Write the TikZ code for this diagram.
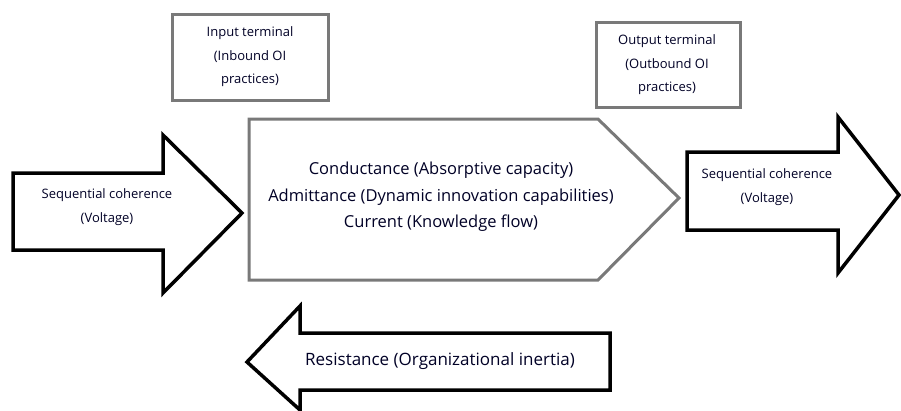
\documentclass[tikz,border=0pt]{standalone}
\usepackage{fontspec}
\setmainfont{Open Sans}
\begin{document}
\begin{tikzpicture}[x=1pt,y=-1pt,
  blk/.style={draw=black,line width=3.5pt,line join=miter,fill=white},
  gry/.style={draw=gray!95!black,line width=3pt,line join=miter,fill=white},
  small/.style={font=\fontsize{13}{23.5}\selectfont,align=center,text=black!85!blue},
  big/.style={font=\fontsize{16.5}{26.5}\selectfont,align=center,text=black!85!blue}]
\useasboundingbox (0,0) rectangle (901,410);
% left arrow
\draw[blk] (13,173) -- (163,173) -- (163,135) -- (242,213) -- (163,293) -- (163,250) -- (13,250) -- cycle;
\node[small] (lv) at (107,207) {Sequential coherence\\(Voltage)};
% main pentagon
\draw[gry] (249,119) -- (598,119) -- (679,198) -- (598,280) -- (249,280) -- cycle;
\node[big] (main) at (441,197) {Conductance (Absorptive capacity)\\Admittance (Dynamic innovation capabilities)\\Current (Knowledge flow)};
% right arrow
\draw[blk] (687,152) -- (838,152) -- (838,117) -- (899,195) -- (838,273) -- (838,230) -- (687,230) -- cycle;
\node[small] (rv) at (767,187) {Sequential coherence\\(Voltage)};
% input terminal
\draw[gry] (172,14) rectangle (328,100);
\node[small] (in) at (250,57) {Input terminal\\(Inbound OI\\practices)};
% output terminal
\draw[gry] (596,22) rectangle (740,107);
\node[small] (out) at (667,65) {Output terminal\\(Outbound OI\\practices)};
% resistance arrow
\draw[blk] (610,333) -- (300,333) -- (300,306) -- (247,362) -- (300,410) -- (300,390) -- (610,390) -- cycle;
\node[big,font=\fontsize{17}{26}\selectfont] (res) at (440,361) {Resistance (Organizational inertia)};
\end{tikzpicture}
\end{document}
